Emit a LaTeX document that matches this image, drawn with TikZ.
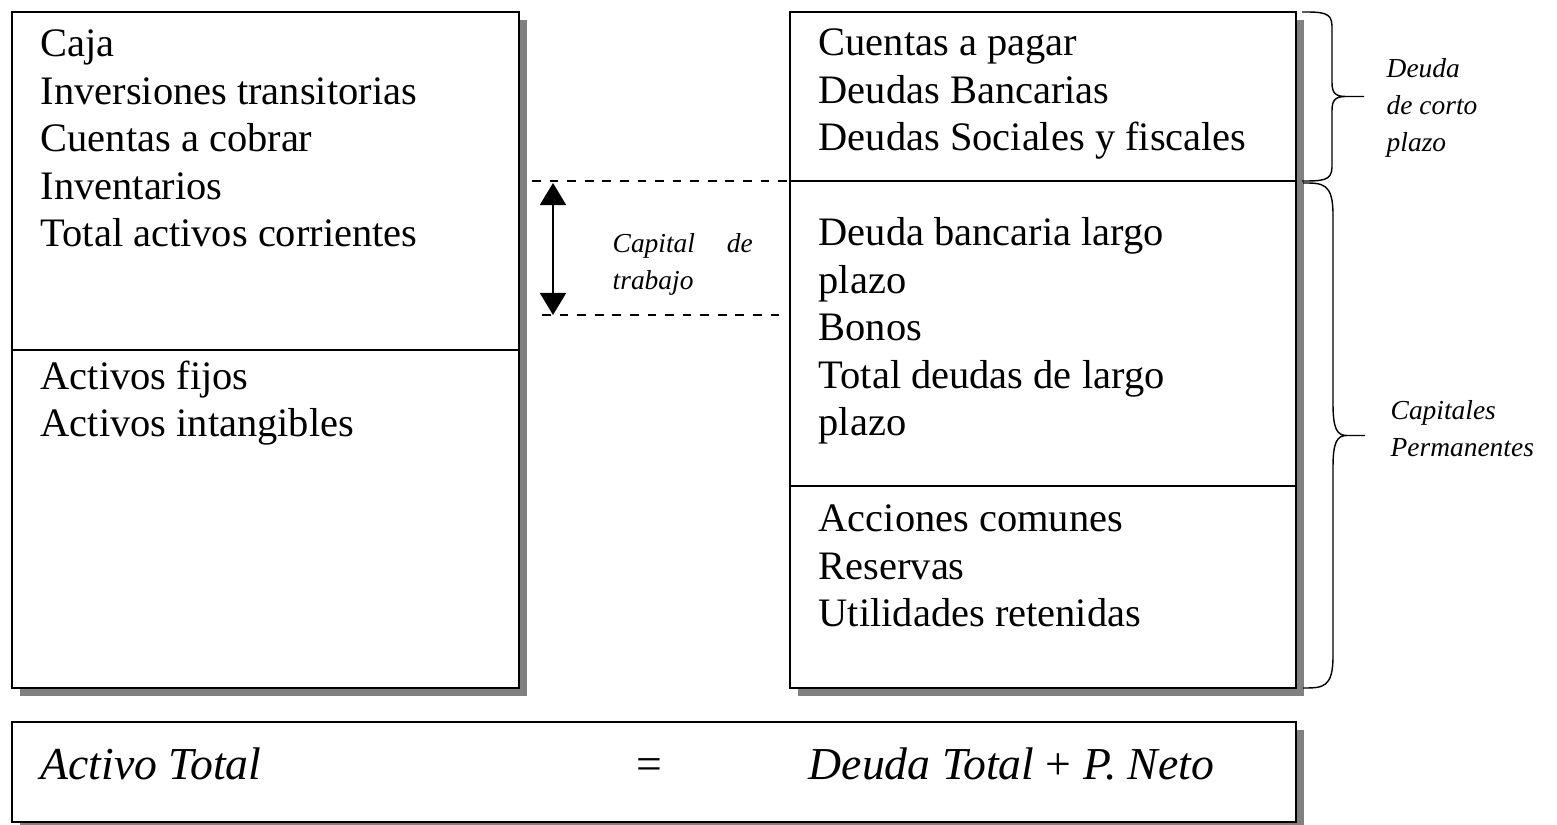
\documentclass[tikz,border=0pt]{standalone}
\usepackage{fontspec}
\setmainfont{Liberation Serif}
\usetikzlibrary{arrows.meta}
\def\wordbrace(#1:#2:#3:#4){%
  \pgfmathsetmacro\bmid{(#2+#3)/2}
  \draw[bracepen] (#1,#2) .. controls +(20,0) and +(0,-#4) .. (#1+30,#2+#4) -- (#1+30,\bmid-#4)
    .. controls +(0,#4*0.8) and +(-10,0) .. (#1+44,\bmid) -- (#1+62,\bmid)
    (#1+44,\bmid) .. controls +(-10,0) and +(0,-#4*0.8) .. (#1+30,\bmid+#4) -- (#1+30,#3-#4)
    .. controls +(0,#4) and +(20,0) .. (#1,#3);
}
\tikzset{
  box/.style={draw=black, line width=0.7pt, fill=white},
  shadow/.style={fill=black!50, draw=none},
  % base west = baseline of the last line
  item/.style={anchor=base west, inner sep=0pt, align=left, font=\fontsize{11.5}{13.55}\selectfont},
  note/.style={anchor=base west, inner sep=0pt, align=left, font=\fontsize{7.8}{10.6}\selectfont\itshape},
  formula/.style={anchor=base west, inner sep=0pt, font=\fontsize{13}{15}\selectfont\itshape},
  bracepen/.style={line width=0.4pt},
  guide/.style={line width=0.5pt, dash pattern=on 2.5pt off 2.5pt}
}

\begin{document}
\begin{tikzpicture}[x=0.01cm, y=-0.01cm]
	\useasboundingbox (0,0) rectangle (1557,825);
	
	%%%%% activos %%%%%
	\fill[shadow] (20,20) rectangle (527,696);
	\draw[box] (12,12) rectangle (519,688);
	\draw[line width=0.7pt] (12,350) -- (519,350);
	\node[item] (corrientes) at (40,247) {Caja\\Inversiones transitorias\\Cuentas a cobrar\\Inventarios\\Total activos corrientes};
	\node[item] (fijos) at (40,437) {Activos fijos\\Activos intangibles};
	
	%%%%% pasivos %%%%%
	\fill[shadow] (798,20) rectangle (1304,696);
	\draw[box] (790,12) rectangle (1296,688);
	\draw[line width=0.7pt] (790,181) -- (1296,181);
	\draw[line width=0.7pt] (790,486) -- (1296,486);
	\node[item] (corto) at (818,151) {Cuentas a pagar\\Deudas Bancarias\\Deudas Sociales y fiscales};
	\node[item] (largo) at (818,436) {Deuda bancaria largo\\plazo\\Bonos\\Total deudas de largo\\plazo};
	\node[item] (neto) at (818,627) {Acciones comunes\\Reservas\\Utilidades retenidas};
	
	%%%%% capital de trabajo %%%%%
	\coordinate (ct-l1) at (532,181);
	\coordinate (ct-r1) at (790,181);
	\coordinate (ct-l2) at (542,315);
	\coordinate (ct-r2) at (786,315);
	\coordinate (ct-top) at (553,183);
	\coordinate (ct-bot) at (553,315);
	\draw[guide] (ct-l1) -- (ct-r1);
	\draw[guide] (ct-l2) -- (ct-r2);
	\draw[line width=0.5pt, {Triangle[length=0.22cm,width=0.26cm]}-{Triangle[length=0.22cm,width=0.26cm]}] (ct-top) -- (ct-bot);
	\node[note] (ct-lbl) at (612,290) {\makebox[1.4cm][s]{Capital de}\\trabajo};
	
	%%%%% llaves %%%%%
	\wordbrace(1302:12:181:14)
	\wordbrace(1303:183:688:32)
	\node[note] (corto-lbl) at (1386,152) {Deuda\\de corto\\plazo};
	\node[note] (perm-lbl) at (1390,457) {Capitales\\Permanentes};
	
	%%%%% ecuacion %%%%%
	\fill[shadow] (20,730) rectangle (1304,830);
	\draw[box] (12,722) rectangle (1296,822);
	\node[formula] (activo) at (40,780) {Activo Total};
	\node[formula, font=\fontsize{13}{15}\selectfont] (igual) at (636,780) {=};
	\node[formula] (pasivo) at (808,780) {Deuda Total {\upshape+} P. Neto};
	
\end{tikzpicture}
\end{document}
